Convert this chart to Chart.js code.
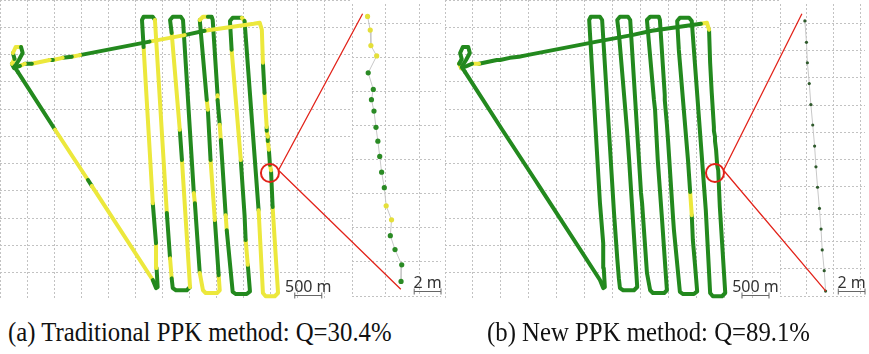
<!DOCTYPE html>
<html>
<head>
<meta charset="utf-8">
<script src="https://cdn.jsdelivr.net/npm/chart.js@4.4.0/dist/chart.umd.min.js"></script>
<style>
  body { margin: 0; background: #fff; }
  #figura { position: relative; width: 869px; height: 354px; overflow: hidden; background: #fff; }
  #figura canvas { position: absolute; top: 0; }
  .caption { position: absolute; top: 315px; font-family: "Liberation Serif", serif; font-size: 28px; line-height: 34px; color: #111; white-space: nowrap; transform: scaleX(0.885); transform-origin: 0 0; }
</style>
</head>
<body>
<div id="figura">
  <canvas id="mainA" width="352" height="300" style="left:0px"></canvas>
  <canvas id="zoomA" width="445" height="300" style="left:0px"></canvas>
  <canvas id="mainB" width="335" height="300" style="left:445px"></canvas>
  <canvas id="zoomB" width="424" height="300" style="left:445px"></canvas>
  <div class="caption" style="left:8px">(a) Traditional PPK method: Q=30.4%</div>
  <div class="caption" style="left:487px">(b) New PPK method: Q=89.1%</div>
</div>
<script>
// Trayectoria del vuelo, en metros (este / norte) respecto al centro de la malla
const trackEast = [
  -2630, -1940, -1330, -1260, -130, -70, -40, -60, -70, -130,
  -300, -330, -300, -130, -90, 130, 190, 220, 240, 300,
  500, 560, 410, 370, 220, 190, 240, 390, 430, 630,
  650, 740, 800, 850, 1060, 1110, 1090, 1020, 940, 890,
  870, 740, 800, 890, 960, 980, 1070, 1070, 1110, 1130,
  1220, 1240, 1350, 1410, 1610, 1670, 1630, 1590, 1570, 1540,
  1500, 1330, 1300, 1350, 1520, 1570, 1830, 1910, 1960, 2130,
  2190, 2090, 2060, 2040, 2020, 2000, 2000, 1980, 1980, 1940,
  1910, 1890, 1850, 1740, 830, 460, -190, -1480, -1630, -1800,
  -1980, -2040, -2370, -2500, -2590, -2700, -2740, -2690, -2720, -2670,
  -2570, -2540, -2610, -2690, -2630
];
const trackNorth = [
  1130, 60, -870, -980, -2720, -2870, -2850, -2500, -2040, -1300,
  1590, 2090, 2150, 2150, 2090, -1480, -2320, -2690, -2870, -2910,
  -2910, -2850, -500, 60, 1850, 2090, 2150, 2150, 2090, -1110,
  -1300, -2590, -2910, -2960, -2960, -2910, -2630, -1610, -500, 430,
  610, 2090, 2150, 2150, 2150, 2090, 700, 610, 150, -130,
  -1520, -1800, -2940, -2980, -2980, -2930, -2440, -1980, -1520, -1090,
  -500, 1540, 2070, 2130, 2130, 2070, -1430, -2960, -3020, -3020,
  -2960, -1370, -690, -590, -310, -150, -70, 40, 110, 740,
  1300, 1910, 2040, 2020, 1890, 1810, 1690, 1440, 1410, 1390,
  1350, 1350, 1280, 1280, 1240, 1200, 1280, 1370, 1480, 1590,
  1590, 1480, 1350, 1220, 1130
];
// 1 = solucion fija (verde), 0 = flotante (amarillo); un valor por tramo
const fixA = [
  1, 0, 1, 0, 1, 1, 1, 0, 1, 0,
  1, 1, 1, 1, 0, 1, 0, 1, 1, 1,
  1, 0, 1, 0, 1, 1, 1, 1, 1, 0,
  1, 0, 0, 0, 0, 0, 1, 0, 1, 0,
  1, 0, 0, 1, 1, 1, 0, 1, 0, 1,
  0, 1, 1, 1, 1, 1, 0, 1, 1, 1,
  0, 1, 1, 1, 0, 1, 0, 0, 0, 0,
  0, 1, 0, 1, 0, 1, 0, 1, 0, 1,
  0, 0, 0, 0, 1, 0, 1, 0, 1, 0,
  1, 0, 1, 0, 1, 1, 0, 1, 0, 0,
  1, 1, 1, 1, 1
];
const fixB = [
  1, 1, 1, 1, 1, 1, 1, 1, 1, 1,
  1, 1, 1, 1, 1, 1, 1, 1, 1, 1,
  1, 1, 1, 1, 1, 1, 1, 1, 1, 1,
  1, 1, 1, 1, 1, 1, 1, 1, 1, 1,
  1, 1, 1, 1, 1, 1, 1, 1, 1, 1,
  1, 1, 1, 1, 1, 1, 1, 1, 0, 1,
  1, 1, 1, 1, 1, 1, 1, 1, 1, 1,
  1, 1, 1, 1, 1, 1, 1, 1, 1, 1,
  1, 0, 0, 1, 1, 1, 1, 1, 1, 1,
  1, 1, 0, 1, 1, 0, 1, 1, 1, 1,
  1, 1, 1, 1, 1
];

// Detalle ampliado dentro del circulo rojo, en metros
const zoomEastA = [1.16, 1.36, 1.41, 1.84, 1.21, 1.59, 1.45, 1.64, 1.79, 1.93, 2.07, 2.21, 2.41, 2.55, 2.95, 2.86, 3.21, 3.71, 3.66];
const zoomNorthA = [20.52, 19.52, 18.38, 17.62, 16.38, 15.16, 14.41, 13.57, 12.38, 11.36, 10.24, 9.09, 7.95, 6.62, 5.59, 4.43, 3.41, 2.29, 1.07];
const zoomFixA = [0, 0, 0, 0, 1, 1, 1, 1, 1, 1, 1, 1, 1, 0, 0, 1, 1, 1, 1];
const zoomEastB = [1.86, 1.98, 2.05, 2.19, 2.31, 2.45, 2.59, 2.69, 2.81, 2.95, 3.07, 3.16, 3.31, 3.41];
const zoomNorthB = [20.19, 18.62, 17.12, 15.59, 14.05, 12.55, 11.00, 9.48, 7.98, 6.43, 4.91, 3.38, 1.86, 0.36];

const GREEN = '#23891e';
const YELLOW = '#ece83c';
const RED = '#e2231a';

// Malla punteada gris, sin etiquetas (la linea del cero es continua)
function gridOptions(min, max, step, solidZero) {
  return {
    type: 'linear',
    min: min,
    max: max,
    ticks: { display: false, stepSize: step, includeBounds: false },
    grid: {
      drawTicks: false,
      lineWidth: 1,
      color: c => (solidZero && c.tick && c.tick.value === 0) ? '#cfcfcf' : '#c2c2c2'
    },
    border: {
      display: false,
      dash: c => (solidZero && c.tick && c.tick.value === 0) ? [] : [2, 2]
    }
  };
}

// Barra de escala "500 m" / "2 m"
const scaleBar = {
  id: 'scaleBar',
  afterDraw(chart, args, opts) {
    const { ctx, scales } = chart;
    const x0 = scales.x.getPixelForValue(opts.east);
    const x1 = scales.x.getPixelForValue(opts.east + opts.length);
    const y = Math.round(scales.y.getPixelForValue(opts.north)) + 0.5;
    ctx.save();
    ctx.strokeStyle = '#666';
    ctx.lineWidth = 1;
    ctx.beginPath();
    ctx.moveTo(x0, y - 3); ctx.lineTo(x0, y + 3);
    ctx.moveTo(x0, y); ctx.lineTo(x1, y);
    ctx.moveTo(x1, y - 3); ctx.lineTo(x1, y + 3);
    ctx.stroke();
    ctx.fillStyle = '#333';
    ctx.font = '16px "Noto Sans"';
    ctx.textAlign = 'center';
    ctx.fillText(opts.text, (x0 + x1) / 2, y - 4);
    ctx.restore();
  }
};

// Circulo rojo sobre la trayectoria y lineas hacia el detalle
function zoomLinks(mainChart, center, topEnd, bottomEnd) {
  return {
    id: 'zoomLinks',
    afterDraw(chart) {
      const { ctx, scales } = chart;
      const cx = mainChart.scales.x.getPixelForValue(center[0]);
      const cy = mainChart.scales.y.getPixelForValue(center[1]);
      const r = 9;
      const sx = cx + r * 0.95;
      const sy = cy - r * 0.3;
      ctx.save();
      ctx.strokeStyle = RED;
      ctx.lineWidth = 2;
      ctx.beginPath();
      ctx.arc(cx, cy, r, 0, Math.PI * 2);
      ctx.stroke();
      ctx.lineWidth = 1.3;
      ctx.beginPath();
      ctx.moveTo(sx, sy);
      ctx.lineTo(scales.x.getPixelForValue(topEnd[0]), scales.y.getPixelForValue(topEnd[1]));
      ctx.moveTo(sx, sy);
      ctx.lineTo(scales.x.getPixelForValue(bottomEnd[0]), scales.y.getPixelForValue(bottomEnd[1]));
      ctx.stroke();
      ctx.restore();
    }
  };
}

function drawMain(id, fix, xMin, xMax) {
  return new Chart(document.getElementById(id), {
    type: 'line',
    data: {
      datasets: [{
        data: trackEast.map((e, i) => ({ x: e, y: trackNorth[i] })),
        borderColor: GREEN,
        borderWidth: 4,
        borderCapStyle: 'round',
        borderJoinStyle: 'round',
        pointRadius: 0,
        tension: 0,
        segment: { borderColor: c => fix[c.p0DataIndex] ? GREEN : YELLOW }
      }]
    },
    options: {
      responsive: false,
      animation: false,
      events: [],
      layout: { padding: 0 },
      plugins: {
        legend: { display: false },
        tooltip: { enabled: false },
        scaleBar: { east: 2500, north: -3000, length: 500, text: '500 m' }
      },
      scales: {
        x: gridOptions(xMin, xMax, 500, true),
        y: gridOptions(-3090, 2460, 500, true)
      }
    },
    plugins: [scaleBar]
  });
}

function drawZoom(id, east, north, colors, radius, xMax, step, padLeft, links) {
  return new Chart(document.getElementById(id), {
    type: 'line',
    data: {
      datasets: [{
        data: east.map((e, i) => ({ x: e, y: north[i] })),
        borderColor: '#c8c8c8',
        borderWidth: 1,
        pointRadius: radius,
        pointBorderWidth: 0,
        pointBackgroundColor: colors,
        tension: 0
      }]
    },
    options: {
      responsive: false,
      animation: false,
      events: [],
      layout: { padding: { left: padLeft, top: 0, right: 0, bottom: 0 } },
      plugins: {
        legend: { display: false },
        tooltip: { enabled: false },
        scaleBar: { east: xMax - 2, north: 0.36, length: 2, text: '2 m' }
      },
      scales: {
        x: gridOptions(0, xMax, step, false),
        y: gridOptions(0, 21.43, step, false)
      }
    },
    plugins: [scaleBar, links]
  });
}

// Panel (a): metodo PPK tradicional
const mainA = drawMain('mainA', fixA, -2960, 3560);
drawZoom('zoomA', zoomEastA, zoomNorthA, zoomFixA.map(f => f ? '#2a8a24' : '#e4df3a'), 2.6, 6.64, 2.5, 352,
  zoomLinks(mainA, [2040, -740], [0.79, 20.71], [3.64, 0.5]));

// Panel (b): nuevo metodo PPK
const mainB = drawMain('mainB', fixB, -3000, 3204);
drawZoom('zoomB', zoomEastB, zoomNorthB, zoomEastB.map(() => '#2f5a2c'), 1.6, 6.36, 2, 335,
  zoomLinks(mainB, [2000, -740], [1.64, 20.71], [3.43, 0.36]));
</script>
</body>
</html>
